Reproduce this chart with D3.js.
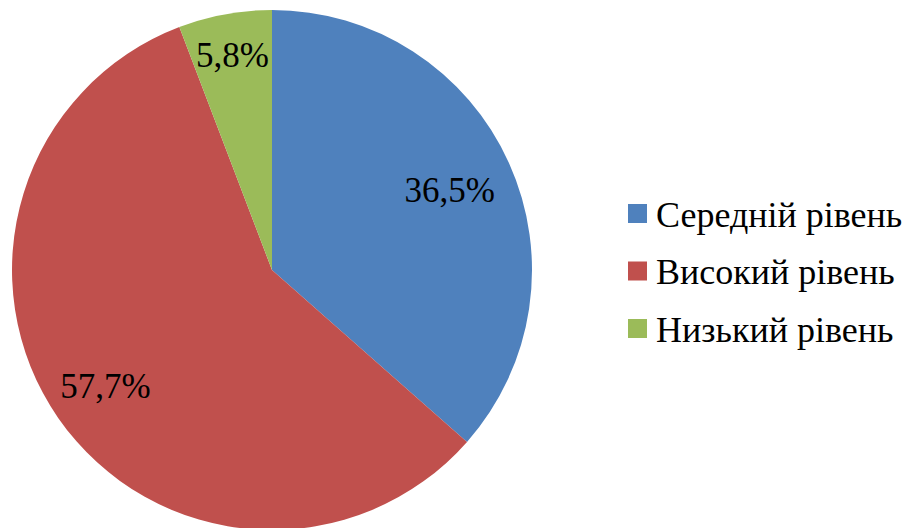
<!DOCTYPE html>
<html>
<head>
<meta charset="utf-8">
<script src="https://cdn.jsdelivr.net/npm/d3@7"></script>
<style>
  body { margin: 0; background: #fff; }
  svg { display: block; }
</style>
</head>
<body>
<div id="root"></div>
<script>
const categories = ["Середній рівень", "Високий рівень", "Низький рівень"]
const values = [36.5, 57.7, 5.8]
const valueLabels = ["36,5%", "57,7%", "5,8%"]
const colors = ["#4f81bd", "#c0504d", "#9bbb59"]

const width = 913, height = 528
const cx = 272, cy = 270, radius = 260
const fontFam = "Liberation Serif, Times New Roman, serif"

const svg = d3.select("#root").append("svg")
    .attr("width", width)
    .attr("height", height)

const pie = d3.pie().sort(null).value(d => d)
const arcs = pie(values)
const arc = d3.arc().innerRadius(0).outerRadius(radius)

const g = svg.append("g").attr("transform", `translate(${cx},${cy})`)

g.selectAll("path.slice")
    .data(arcs)
    .join("path")
    .attr("class", "slice")
    .attr("d", arc)
    .attr("fill", (d, i) => colors[i])

// label distance from centre as fraction of radius, tuned by eye
const labelRadius = [0.75, 0.78, 0.84]
g.selectAll("text.val")
    .data(arcs)
    .join("text")
    .attr("class", "val")
    .attr("transform", (d, i) => {
        const a = (d.startAngle + d.endAngle) / 2
        const r = radius * labelRadius[i]
        return `translate(${Math.sin(a) * r},${-Math.cos(a) * r})`
    })
    .attr("text-anchor", "middle")
    .attr("dy", "0.35em")
    .attr("font-family", fontFam)
    .attr("font-size", 35)
    .attr("fill", "#000")
    .text((d, i) => valueLabels[i])

// legend
const legend = svg.append("g").attr("transform", "translate(628,214)")
const rowH = 57.5
const items = legend.selectAll("g")
    .data(categories)
    .join("g")
    .attr("transform", (d, i) => `translate(0,${i * rowH})`)
items.append("rect")
    .attr("x", 0).attr("y", -10)
    .attr("width", 19).attr("height", 19)
    .attr("fill", (d, i) => colors[i])
items.append("text")
    .attr("x", 28)
    .attr("dy", "0.35em")
    .attr("font-family", fontFam)
    .attr("font-size", 36)
    .attr("fill", "#000")
    .text(d => d)
</script>
</body>
</html>
